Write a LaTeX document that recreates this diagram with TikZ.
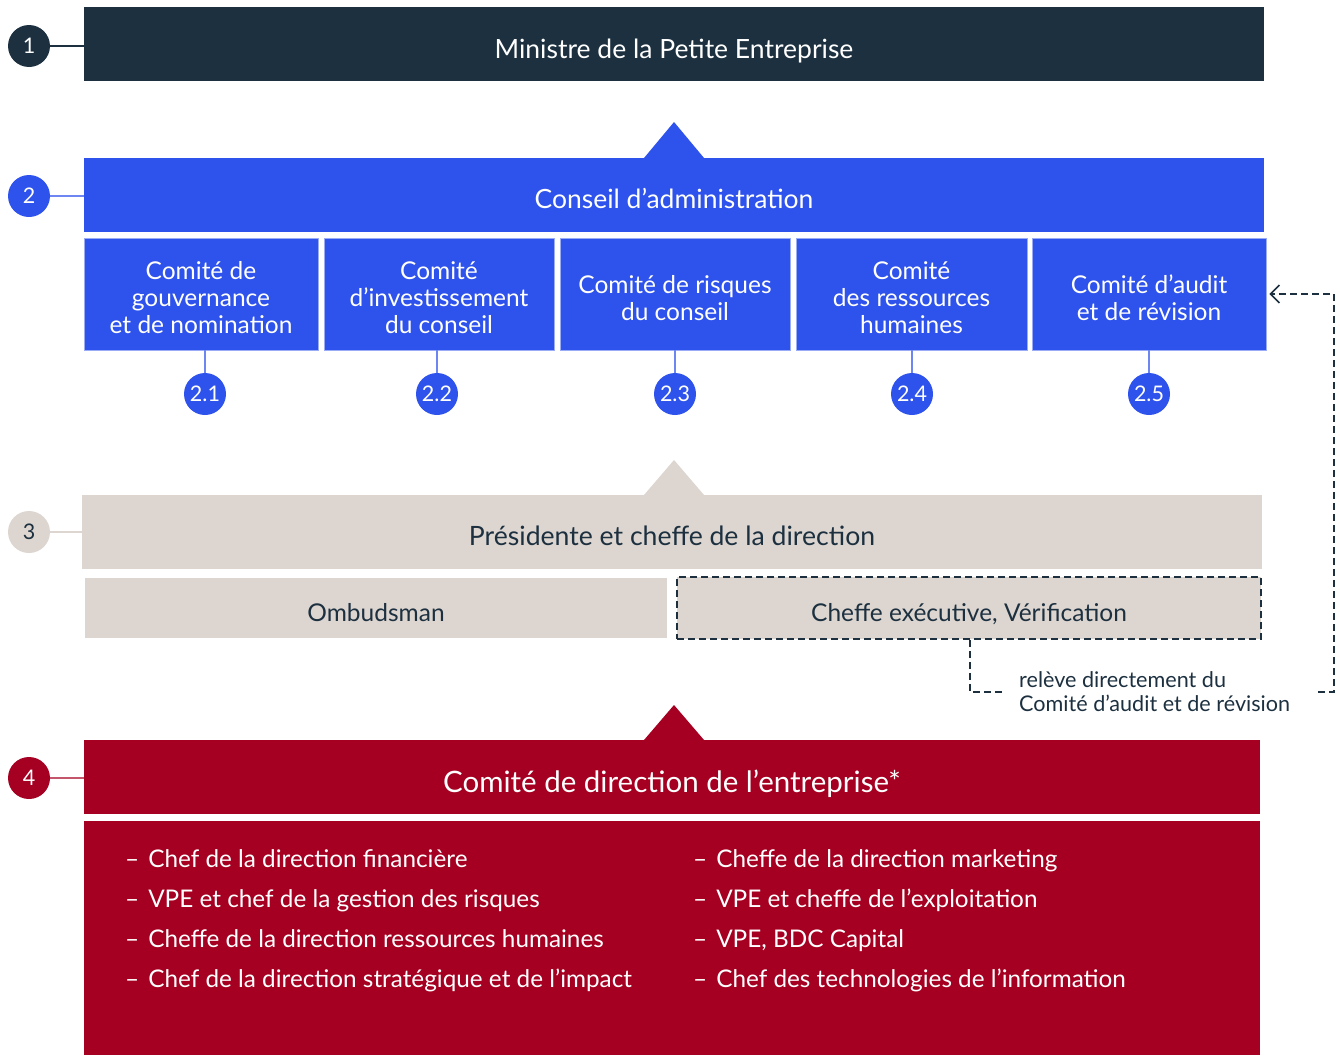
\documentclass[tikz,border=0pt]{standalone}
\usepackage{fontspec}
\setmainfont{Lato}
\usetikzlibrary{arrows.meta}
\definecolor{navy}{HTML}{1C3040}
\definecolor{board}{HTML}{2E52EC}
\definecolor{boardln}{HTML}{6E86F2}
\definecolor{boardedge}{HTML}{9AACF6}
\definecolor{sand}{HTML}{DDD5CF}
\definecolor{crimson}{HTML}{A50021}
\definecolor{crimsonln}{HTML}{C4566C}
\begin{document}
\begin{tikzpicture}[x=1pt,y=-1pt,
  bar/.style={rectangle, inner sep=0pt, minimum width=1180pt, minimum height=74pt},
  bartext/.style={anchor=base, inner sep=0pt, text=white, font=\fontsize{26.5}{30}\selectfont},
  subbox/.style={rectangle, inner sep=0pt, fill=board, draw=boardedge, line width=0.8pt,
                 minimum height=112pt},
  subtext/.style={inner sep=0pt, text=white, align=center, yshift=-4pt,
                  font=\fontsize{24.5}{27}\selectfont},
  sandbox/.style={rectangle, inner sep=0pt, fill=sand},
  sandtext/.style={anchor=base, inner sep=0pt, text=navy, font=\fontsize{24.5}{28}\selectfont},
  numc/.style={circle, inner sep=0pt, minimum size=42pt, text=white,
               font=\fontsize{21.5}{24}\selectfont},
  lvlline/.style={line width=1.5pt},
  dashline/.style={draw=navy, line width=1.5pt, dash pattern=on 7pt off 4pt},
  item/.style={anchor=base west, inner sep=0pt, text=white, font=\fontsize{24.3}{28}\selectfont},
  note/.style={anchor=west, inner sep=0pt, text=navy, align=left,
               font=\fontsize{21.6}{24}\selectfont}
]
\useasboundingbox (0,0) rectangle (1340,1055);

% Level 1: minister
\node[bar, fill=navy] (minister) at (674,44) {};
\node[bartext] (ministert) at (674,58.5) {Ministre de la Petite Entreprise};
\node[numc, fill=navy] (n1) at (29,46) {1};
\draw[lvlline, navy] (n1.east) -- (n1.east -| minister.west);

% Level 2: board and its committees
\fill[board] (644,158) -- (674,122) -- (704,158) -- cycle;
\node[bar, fill=board] (conseil) at (674,195) {};
\node[bartext] (conseilt) at (674,208.5) {Conseil d’administration};
\node[numc, fill=board] (n2) at (29,196) {2};
\draw[lvlline, boardln] (n2.east) -- (n2.east -| conseil.west);

\node[subbox, minimum width=234pt] (s1) at (201,294) {};
\node[subbox, minimum width=230pt] (s2) at (439,294) {};
\node[subbox, minimum width=230pt] (s3) at (675,294) {};
\node[subbox, minimum width=231pt] (s4) at (911.5,294) {};
\node[subbox, minimum width=234pt] (s5) at (1149,294) {};
\node[subtext] (s1t) at (s1) {Comité de\\gouvernance\\et de nomination};
\node[subtext] (s2t) at (s2) {Comité\\d’investissement\\du conseil};
\node[subtext] (s3t) at (s3) {Comité de risques\\du conseil};
\node[subtext] (s4t) at (s4) {Comité\\des ressources\\humaines};
\node[subtext] (s5t) at (s5) {Comité d’audit\\et de révision};

\foreach \i/\x/\lbl in {1/205/2.1, 2/437/2.2, 3/675/2.3, 4/912/2.4, 5/1149/2.5}{
  \node[numc, fill=board] (c\i) at (\x,394) {\lbl};
  \draw[line width=1.5pt, boardln] (c\i.north) -- (c\i.north |- s\i.south);
}

% Level 3: president
\fill[sand] (644,495) -- (674,460) -- (704,495) -- cycle;
\node[sandbox, minimum width=1180pt, minimum height=74pt] (pres) at (672,532) {};
\node[sandtext, font=\fontsize{26.6}{30}\selectfont] (prest) at (672,545.5)
  {Présidente et cheffe de la direction};
\node[numc, fill=sand, text=navy] (n3) at (29,532) {3};
\draw[lvlline, sand] (n3.east) -- (pres.west);

\node[sandbox, minimum width=582pt, minimum height=60pt] (ombud) at (376,608) {};
\node[sandtext] (ombudt) at (376,621) {Ombudsman};
\node[sandbox, minimum width=584pt, minimum height=62pt, draw=navy, line width=1.5pt,
      dash pattern=on 7pt off 4pt] (verif) at (969,608) {};
\node[sandtext] (veriftx) at (969,621) {Cheffe exécutive, Vérification};

\node[note] (rel) at (1019,692) {relève directement du\\Comité d’audit et de révision};
\coordinate (bendL) at (970,692);
\coordinate (bendR0) at (1318,692);
\coordinate (bendR) at (1334,692);
\draw[dashline] (verif.south -| bendL) -- (bendL) -- ++(35,0);
\draw[dashline, -{Straight Barb[length=9pt,width=18pt]}]
  (bendR0) -- (bendR) -- (bendR |- s5.east) -- ([xshift=3pt]s5.east);

% Level 4: executive committee
\fill[crimson] (644,740) -- (674,705) -- (704,740) -- cycle;
\node[bar, fill=crimson, minimum width=1176pt] (exec) at (672,777) {};
\node[bartext, font=\fontsize{29.5}{34}\selectfont] (exect) at (672,792.5)
  {Comité de direction de l’entreprise*};
\node[numc, fill=crimson] (n4) at (29,778) {4};
\draw[lvlline, crimsonln] (n4.east) -- (n4.east -| exec.west);

\node[rectangle, inner sep=0pt, fill=crimson, minimum width=1176pt, minimum height=234pt]
  (members) at (672,938) {};
\node[item] (l1) at (125,867) {–\hspace{9pt}Chef de la direction financière};
\node[item] (l2) at (125,907) {–\hspace{9pt}VPE et chef de la gestion des risques};
\node[item] (l3) at (125,947) {–\hspace{9pt}Cheffe de la direction ressources humaines};
\node[item] (l4) at (125,987) {–\hspace{9pt}Chef de la direction stratégique et de l’impact};
\node[item] (r1) at (693,867) {–\hspace{9pt}Cheffe de la direction marketing};
\node[item] (r2) at (693,907) {–\hspace{9pt}VPE et cheffe de l’exploitation};
\node[item] (r3) at (693,947) {–\hspace{9pt}VPE, BDC Capital};
\node[item] (r4) at (693,987) {–\hspace{9pt}Chef des technologies de l’information};
\end{tikzpicture}
\end{document}
